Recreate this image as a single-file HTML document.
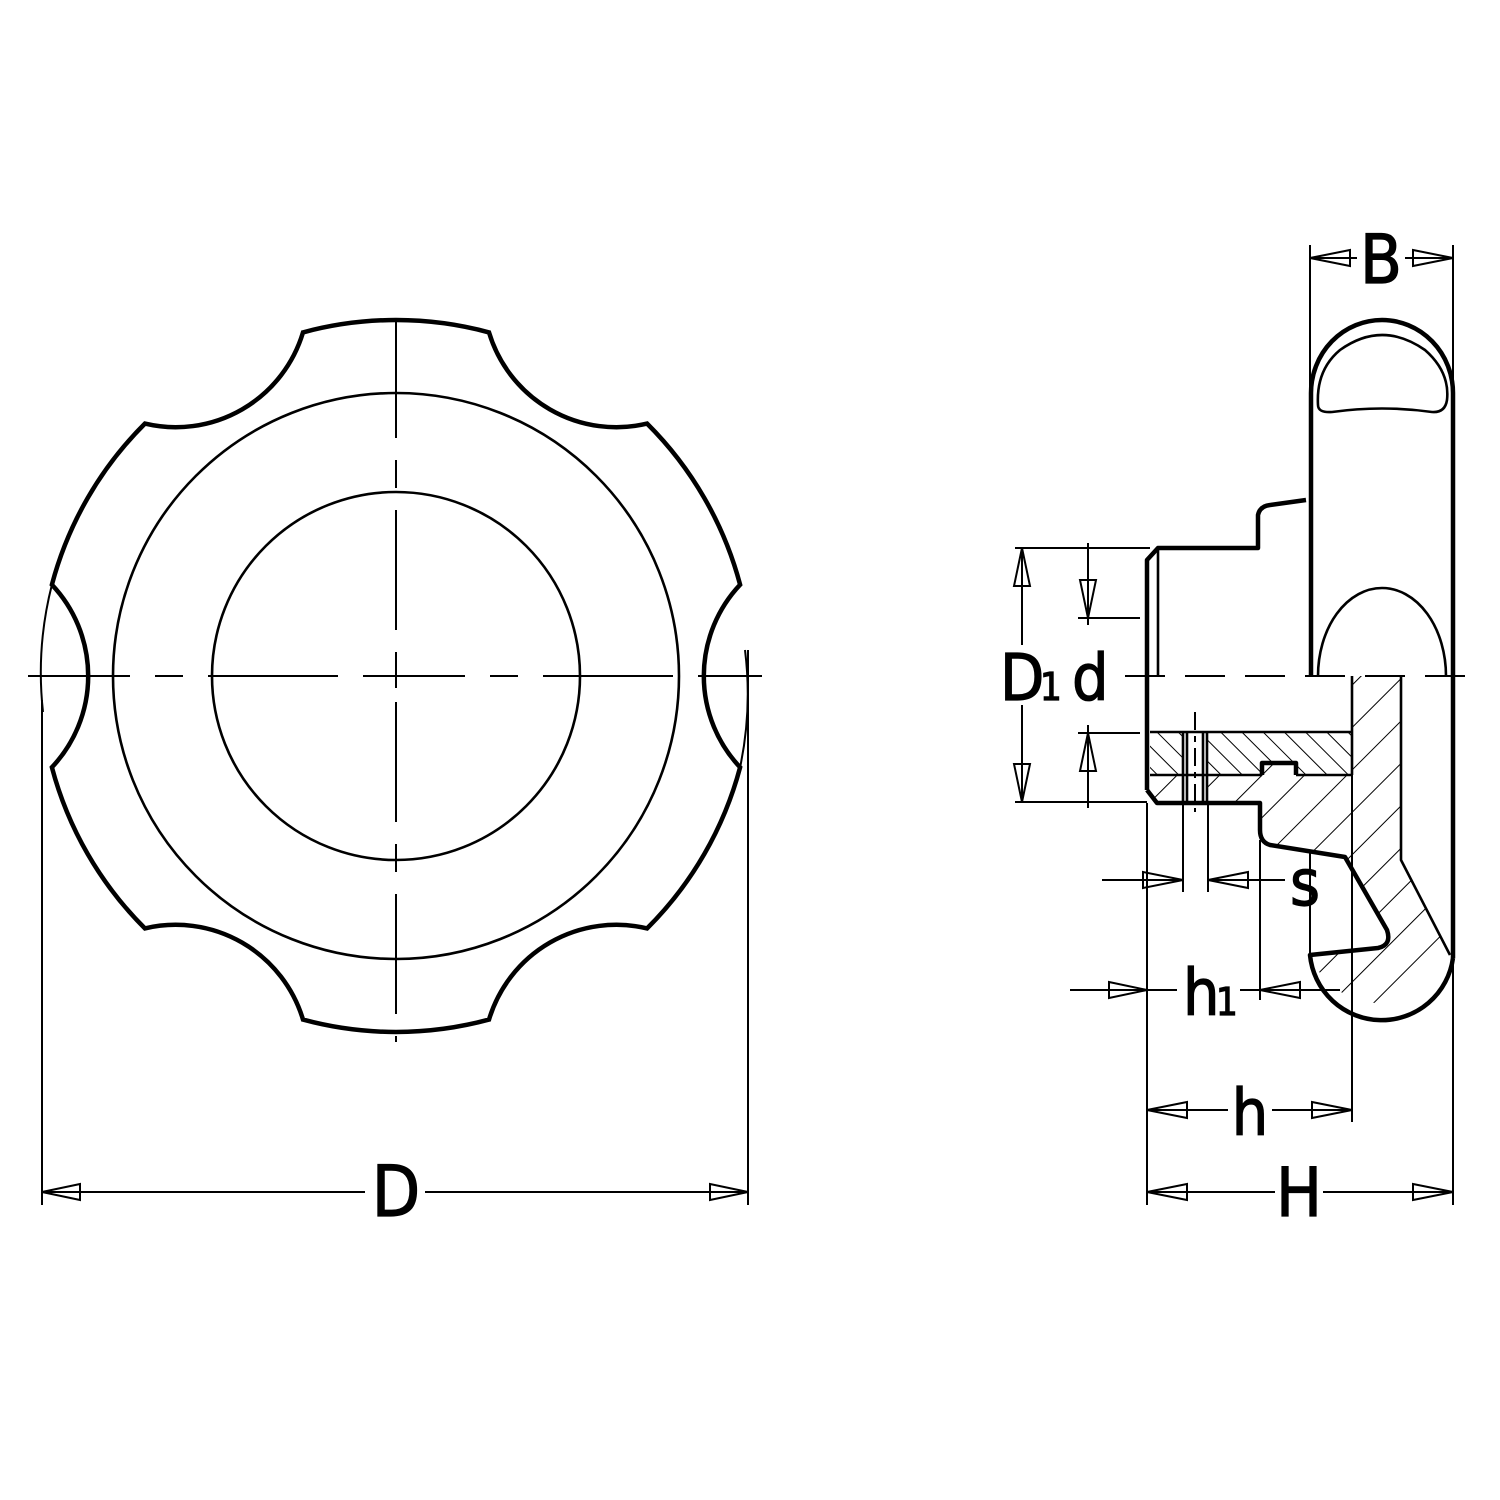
<!DOCTYPE html>
<html><head><meta charset="utf-8"><style>
html,body{margin:0;padding:0;background:#fff;}
svg{display:block;}
text{font-family:"DejaVu Sans Condensed","Liberation Sans",sans-serif;fill:#000;stroke:#000;stroke-width:1.2;}
</style></head><body>
<svg width="1500" height="1500" viewBox="0 0 1500 1500" xmlns="http://www.w3.org/2000/svg">
<defs>
<pattern id="hA" patternUnits="userSpaceOnUse" width="30" height="30" patternTransform="rotate(45)">
<line x1="0" y1="0" x2="0" y2="30" stroke="#000" stroke-width="2"/></pattern>
<pattern id="hB" patternUnits="userSpaceOnUse" width="15" height="15" patternTransform="rotate(-45)">
<line x1="0" y1="0" x2="0" y2="15" stroke="#000" stroke-width="2"/></pattern>
</defs>
<rect width="1500" height="1500" fill="#fff"/>

<!-- FRONT VIEW -->
<g fill="none" stroke="#000">
<path stroke-width="4.5" d="M740.1,767.3 A133,133 0 0 1 740.1,584.7 A356,356 0 0 0 647.1,423.6 A133,133 0 0 1 489,332.4 A356,356 0 0 0 303,332.4 A133,133 0 0 1 144.9,423.6 A356,356 0 0 0 51.9,584.7 A133,133 0 0 1 51.9,767.3 A356,356 0 0 0 144.9,928.4 A133,133 0 0 1 303,1019.6 A356,356 0 0 0 489,1019.6 A133,133 0 0 1 647.1,928.4 A356,356 0 0 0 740.1,767.3 Z"/>
<circle cx="396" cy="676" r="283" stroke-width="2.6"/>
<circle cx="396" cy="676" r="184" stroke-width="2.6"/>
<path stroke-width="2" d="M51.9,584.7 A356,356 0 0 0 43,712"/>
<path stroke-width="2" d="M745,650 A356,356 0 0 1 740.1,767.3"/>
<line x1="396" y1="318" x2="396" y2="1042" stroke-width="2" stroke-dasharray="120 22 28 22"/>
<line x1="28" y1="676" x2="762" y2="676" stroke-width="2" stroke-dasharray="102 25 28 25 130 25"/>
<line x1="384" y1="676" x2="408" y2="676" stroke-width="2"/>
<line x1="396" y1="664" x2="396" y2="688" stroke-width="2"/>
<line x1="42" y1="700" x2="42" y2="1205" stroke-width="2"/>
<line x1="748" y1="650" x2="748" y2="1205" stroke-width="2"/>
<line x1="42" y1="1192" x2="365" y2="1192" stroke-width="2"/>
<line x1="425" y1="1192" x2="748" y2="1192" stroke-width="2"/>
<path stroke-width="2" d="M42,1192 L80,1184 L80,1200 Z M748,1192 L710,1184 L710,1200 Z"/>
</g>
<text x="396" y="1216" font-size="70" text-anchor="middle">D</text>

<!-- SIDE VIEW -->
<g fill="none" stroke="#000">
<path fill="url(#hA)" stroke="none" d="M1352,676 L1401,676 L1401,860 L1450,955 A75,75 0 0 1 1310,955 L1378,948 Q1392,940 1387,930 L1345,857 L1270,845 Q1260,842 1260,830 L1260,803 L1157,803 L1147,790 L1147,775 L1262,775 L1262,763 L1296,763 L1296,775 L1352,775 Z"/>
<rect x="1150" y="732" width="33" height="43" fill="url(#hB)" stroke="none"/>
<path fill="url(#hB)" stroke="none" d="M1207,732 L1352,732 L1352,775 L1296,775 L1296,763 L1262,763 L1262,775 L1207,775 Z"/>
<rect x="1183" y="733" width="24" height="69" fill="#fff" stroke="none"/>

<g stroke-width="4.5" stroke-linejoin="round">
<path d="M1311,676 L1311,393 A71,73 0 0 1 1453,393 L1453,958"/>
<path d="M1147,790 L1147,560 L1158,548 L1258,548 L1258,515 Q1260,506 1270,505 L1306,500"/>
<path d="M1147,790 L1157,803 L1260,803 L1260,830 Q1260,842 1270,845 L1345,857 L1387,930 Q1392,945 1378,948 L1310,955 A72,72 0 0 0 1453,958"/>
<path d="M1262,775 L1262,763 L1296,763 L1296,775"/>
</g>
<g stroke-width="2.6">
<path d="M1318,405 Q1316,370 1340,350 Q1382,320 1425,350 Q1450,372 1447,400 Q1445,413 1432,412 Q1382,405 1332,412 Q1318,413 1318,405 Z"/>
<path d="M1318,676 A64,88 0 0 1 1446,676"/>
<line x1="1158" y1="548" x2="1158" y2="676"/>
<line x1="1150" y1="732" x2="1352" y2="732"/>
<line x1="1150" y1="775" x2="1262" y2="775"/>
<line x1="1296" y1="775" x2="1352" y2="775"/>
<line x1="1183" y1="732" x2="1183" y2="803"/>
<line x1="1187" y1="732" x2="1187" y2="803"/>
<line x1="1203" y1="732" x2="1203" y2="803"/>
<line x1="1207" y1="732" x2="1207" y2="803"/>
<line x1="1352" y1="676" x2="1352" y2="775"/>
<path d="M1401,676 L1401,860 L1450,955"/>
</g>
<g stroke-width="2">
<line x1="1195" y1="712" x2="1195" y2="812" stroke-dasharray="18 6 6 6"/>
<line x1="1125" y1="676" x2="1470" y2="676" stroke-dasharray="40 20"/>
<line x1="1352" y1="775" x2="1352" y2="1122"/>
<line x1="1310" y1="850" x2="1310" y2="960"/>
<line x1="1147" y1="803" x2="1147" y2="1205"/>
<line x1="1453" y1="958" x2="1453" y2="1205"/>
<line x1="1310" y1="245" x2="1310" y2="400"/>
<line x1="1453" y1="245" x2="1453" y2="400"/>
<line x1="1183" y1="803" x2="1183" y2="892"/>
<line x1="1208" y1="803" x2="1208" y2="892"/>
<line x1="1260" y1="840" x2="1260" y2="1000"/>
<line x1="1015" y1="548" x2="1150" y2="548"/>
<line x1="1015" y1="802" x2="1147" y2="802"/>
<line x1="1078" y1="618" x2="1140" y2="618"/>
<line x1="1078" y1="733" x2="1140" y2="733"/>
<line x1="1310" y1="258" x2="1357" y2="258"/>
<line x1="1405" y1="258" x2="1453" y2="258"/>
<path d="M1310,258 L1350,250 L1350,266 Z M1453,258 L1413,250 L1413,266 Z"/>
<line x1="1022" y1="548" x2="1022" y2="645"/>
<line x1="1022" y1="705" x2="1022" y2="802"/>
<path d="M1022,548 L1014,586 L1030,586 Z M1022,802 L1014,764 L1030,764 Z"/>
<line x1="1088" y1="543" x2="1088" y2="625"/>
<line x1="1088" y1="725" x2="1088" y2="808"/>
<path d="M1088,618 L1080,580 L1096,580 Z M1088,733 L1080,771 L1096,771 Z"/>
<line x1="1102" y1="880" x2="1183" y2="880"/>
<line x1="1208" y1="880" x2="1285" y2="880"/>
<path d="M1183,880 L1143,872 L1143,888 Z M1208,880 L1248,872 L1248,888 Z"/>
<line x1="1070" y1="990" x2="1177" y2="990"/>
<line x1="1240" y1="990" x2="1340" y2="990"/>
<path d="M1147,990 L1109,982 L1109,998 Z M1260,990 L1300,982 L1300,998 Z"/>
<line x1="1147" y1="1110" x2="1228" y2="1110"/>
<line x1="1272" y1="1110" x2="1352" y2="1110"/>
<path d="M1147,1110 L1187,1102 L1187,1118 Z M1352,1110 L1312,1102 L1312,1118 Z"/>
<line x1="1147" y1="1192" x2="1275" y2="1192"/>
<line x1="1323" y1="1192" x2="1453" y2="1192"/>
<path d="M1147,1192 L1187,1184 L1187,1200 Z M1453,1192 L1413,1184 L1413,1200 Z"/>
</g>
</g>
<text x="1381" y="283" font-size="68" text-anchor="middle">B</text>
<text x="1000" y="700" font-size="64">D</text>
<text x="1040" y="700" font-size="38">1</text>
<text x="1072" y="700" font-size="64">d</text>
<text x="1290" y="905" font-size="64">s</text>
<text x="1183" y="1015" font-size="64">h</text>
<text x="1216" y="1015" font-size="38">1</text>
<text x="1250" y="1135" font-size="64" text-anchor="middle">h</text>
<text x="1299" y="1216" font-size="68" text-anchor="middle">H</text>
</svg>
</body></html>
